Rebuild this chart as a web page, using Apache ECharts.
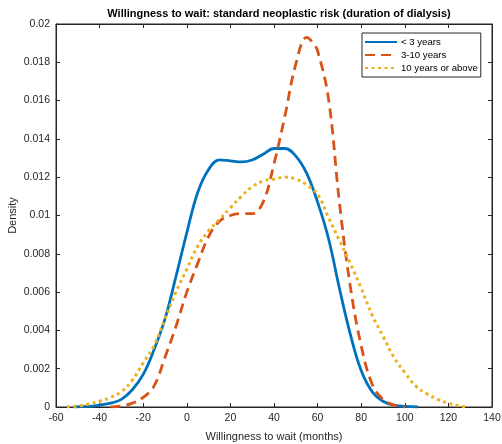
<!DOCTYPE html>
<html>
<head>
<meta charset="utf-8">
<script src="https://cdn.jsdelivr.net/npm/echarts@6/dist/echarts.min.js"></script>
<style>
  html, body { margin: 0; padding: 0; background: #fff; }
  #chart { width: 502px; height: 444px; }
</style>
</head>
<body>
<div id="chart"></div>
<script>
// kernel density curves
const xLess3 = [-52, -45, -40, -35, -30, -25, -20, -15, -10, -5, 0, 5, 10, 15, 20, 25, 30, 35, 40, 45, 50, 55, 60, 65, 70, 75, 80, 85, 90, 95, 100, 106]
const yLess3 = [0, 0.00003, 0.0001, 0.0002, 0.0004, 0.0009, 0.0017, 0.003, 0.0046, 0.0068, 0.0091, 0.0112, 0.0124, 0.0129, 0.01285, 0.0128, 0.0129, 0.0132, 0.0135, 0.0135, 0.0131, 0.0122, 0.0107, 0.0088, 0.0062, 0.0038, 0.0019, 0.0008, 0.0003, 0.0001, 0.00003, 0]

const x3to10 = [-35, -30, -25, -20, -15, -10, -5, 0, 5, 10, 15, 20, 25, 30, 35, 40, 45, 50, 55, 58, 60, 65, 70, 75, 80, 85, 90, 95, 100]
const y3to10 = [0, 0.00005, 0.0002, 0.0005, 0.0011, 0.0026, 0.0042, 0.006, 0.0075, 0.0089, 0.0097, 0.01, 0.0101, 0.0101, 0.0107, 0.0127, 0.0152, 0.0179, 0.0193, 0.019, 0.0186, 0.0161, 0.0107, 0.0063, 0.0032, 0.0012, 0.0004, 0.0001, 0]

const x10plus = [-55, -50, -45, -40, -35, -30, -25, -20, -15, -10, -5, 0, 5, 10, 15, 20, 25, 30, 35, 40, 45, 50, 55, 60, 65, 70, 75, 80, 85, 90, 95, 100, 105, 110, 115, 120, 125, 129]
const y10plus = [0, 0.00005, 0.00015, 0.0003, 0.0005, 0.0008, 0.0014, 0.0023, 0.0032, 0.0046, 0.006, 0.0072, 0.0084, 0.0092, 0.0098, 0.0104, 0.011, 0.0115, 0.0118, 0.0119, 0.012, 0.0119, 0.0116, 0.0111, 0.0099, 0.0087, 0.0075, 0.0062, 0.0048, 0.0037, 0.0026, 0.0018, 0.0011, 0.0007, 0.0004, 0.0002, 0.00005, 0]

const seriesNames = ['< 3 years', '3-10 years', '10 years or above']

const pairs = (xs, ys) => xs.map((x, i) => [x, ys[i]])

const axisColor = '#262626'
const fontFam = 'Liberation Sans, Arial, sans-serif'
const tickFont = { color: axisColor, fontSize: 10.5, fontFamily: fontFam }

const chart = echarts.init(document.getElementById('chart'))

const option = {
  animation: false,
  title: {
    text: 'Willingness to wait: standard neoplastic risk (duration of dialysis)',
    left: 274,
    textAlign: 'center',
    top: 3,
    textStyle: { fontSize: 11, fontWeight: 'bold', color: '#000', fontFamily: fontFam }
  },
  grid: {
    left: 56, right: 10, top: 24, bottom: 37,
    outerBoundsMode: 'none',
    containLabel: false,
    show: true, borderColor: axisColor, borderWidth: 1
  },
  legend: {
    orient: 'vertical',
    left: 362, top: 33,
    data: seriesNames,
    itemWidth: 32, itemHeight: 8, itemGap: 3,
    padding: [4, 3, 4, 2],
    borderColor: axisColor, borderWidth: 1,
    backgroundColor: '#fff',
    itemStyle: { opacity: 0 },
    textStyle: { fontSize: 9.6, color: '#000', fontFamily: fontFam, padding: [0, 0, 0, -1] }
  },
  xAxis: [{
    type: 'value', min: -60, max: 140, interval: 20,
    name: 'Willingness to wait (months)', nameLocation: 'middle', nameGap: 24,
    nameMoveOverlap: false,
    nameTextStyle: { fontSize: 11, color: axisColor, fontFamily: fontFam },
    axisLine: { show: true, onZero: false, lineStyle: { color: axisColor } },
    axisTick: { inside: true, length: 4, lineStyle: { color: axisColor } },
    axisLabel: Object.assign({ margin: 6 }, tickFont),
    splitLine: { show: false }
  }, {
    type: 'value', min: -60, max: 140, interval: 20, position: 'top',
    axisLine: { show: true, onZero: false, lineStyle: { color: axisColor } },
    axisTick: { show: true, inside: true, length: 4, lineStyle: { color: axisColor } },
    axisLabel: { show: false },
    splitLine: { show: false }
  }],
  yAxis: [{
    type: 'value', min: 0, max: 0.02, interval: 0.002,
    name: 'Density', nameLocation: 'middle', nameGap: 38,
    nameMoveOverlap: false,
    nameTextStyle: { fontSize: 11, color: axisColor, fontFamily: fontFam },
    axisLine: { show: true, onZero: false, lineStyle: { color: axisColor } },
    axisTick: { inside: true, length: 4, lineStyle: { color: axisColor } },
    axisLabel: Object.assign({ margin: 6 }, tickFont),
    splitLine: { show: false }
  }, {
    type: 'value', min: 0, max: 0.02, interval: 0.002, position: 'right',
    axisLine: { show: true, onZero: false, lineStyle: { color: axisColor } },
    axisTick: { show: true, inside: true, length: 4, lineStyle: { color: axisColor } },
    axisLabel: { show: false },
    splitLine: { show: false }
  }],
  series: [{
    name: seriesNames[0],
    type: 'line',
    data: pairs(xLess3, yLess3),
    smooth: 0.4,
    symbol: 'none',
    itemStyle: { color: '#0072BD' },
    lineStyle: { color: '#0072BD', width: 2.8 }
  }, {
    name: seriesNames[1],
    type: 'line',
    data: pairs(x3to10, y3to10),
    smooth: 0.4,
    symbol: 'none',
    itemStyle: { color: '#D95319' },
    lineStyle: { color: '#D95319', width: 2.8, type: [10, 6] }
  }, {
    name: seriesNames[2],
    type: 'line',
    data: pairs(x10plus, y10plus),
    smooth: 0.4,
    symbol: 'none',
    itemStyle: { color: '#EDB120' },
    lineStyle: { color: '#EDB120', width: 3, type: [3, 3.5] }
  }]
}

chart.setOption(option)
</script>
</body>
</html>
